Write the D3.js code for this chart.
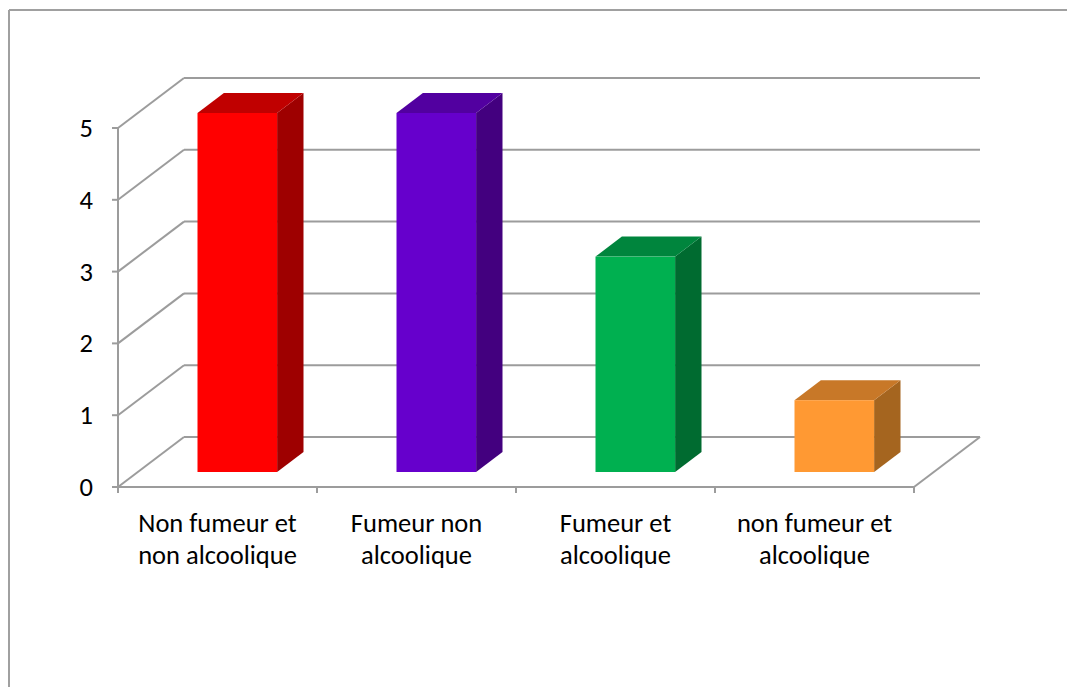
<!DOCTYPE html>
<html>
<head>
<meta charset="utf-8">
<script src="https://cdn.jsdelivr.net/npm/d3@7"></script>
<style>
  html, body { margin: 0; padding: 0; background: #fff; }
  svg { display: block; }
  text { font-family: Carlito, "Open Sans", "Liberation Sans", sans-serif; fill: #000; }
</style>
</head>
<body>
<svg id="chart" width="1067" height="687"></svg>
<script>
// Data
const categories = [
  ["Non fumeur et", "non alcoolique"],
  ["Fumeur non", "alcoolique"],
  ["Fumeur et", "alcoolique"],
  ["non fumeur et", "alcoolique"]
];
const values = [5, 5, 3, 1];
const yTicks = [0, 1, 2, 3, 4, 5];
const frontColors = ["#FF0000", "#6600CC", "#00B050", "#FF9933"];
const topColors   = ["#C00000", "#5200A0", "#00853D", "#C87828"];
const sideColors  = ["#9E0000", "#43007F", "#006B30", "#A5651F"];

const svg = d3.select("#chart");
const W = 1067, H = 687;
const FONT = 26.5;

// Outer frame (top and left edges)
svg.append("line").attr("x1", 9).attr("y1", 10).attr("x2", W).attr("y2", 10)
  .attr("stroke", "#a0a0a0").attr("stroke-width", 2);
svg.append("line").attr("x1", 9).attr("y1", 10).attr("x2", 9).attr("y2", H)
  .attr("stroke", "#a0a0a0").attr("stroke-width", 2);

// Front plane scales and depth projection
const x = d3.scaleBand().domain(d3.range(categories.length)).range([118, 914]).paddingInner(0).paddingOuter(0);
const y = d3.scaleLinear().domain([0, 5]).range([487, 128]);
const DX = 66, DY = -50;          // full depth offset
const dFront = 0.3, dBack = 0.7;  // bar depth placement
const barFrac = 0.4;

const gridColor = "#9c9c9c";
const grid = svg.append("g").attr("fill", "none").attr("stroke", gridColor).attr("stroke-width", 2);

// Left wall diagonals and back wall lines
yTicks.forEach(v => {
  grid.append("line").attr("x1", 118).attr("y1", y(v)).attr("x2", 118 + DX).attr("y2", y(v) + DY);
  grid.append("line").attr("x1", 118 + DX).attr("y1", y(v) + DY).attr("x2", 914 + DX).attr("y2", y(v) + DY);
});
// Floor right edge and front edge
grid.append("line").attr("x1", 914).attr("y1", y(0)).attr("x2", 914 + DX).attr("y2", y(0) + DY);
grid.append("line").attr("x1", 118).attr("y1", y(0)).attr("x2", 914).attr("y2", y(0));
// Y axis line
grid.append("line").attr("x1", 118).attr("y1", y(0)).attr("x2", 118).attr("y2", y(5));
// Y ticks
yTicks.forEach(v => {
  grid.append("line").attr("x1", 112).attr("y1", y(v)).attr("x2", 118).attr("y2", y(v));
});
// X ticks at band edges
d3.range(categories.length + 1).forEach(i => {
  const xx = 118 + i * x.step();
  grid.append("line").attr("x1", xx).attr("y1", y(0)).attr("x2", xx).attr("y2", y(0) + 6);
});

// Bars
const bars = svg.append("g");
values.forEach((v, i) => {
  const bw = x.step() * barFrac;
  const x0 = x(i) + (x.step() - bw) / 2 + DX * dFront;
  const x1 = x0 + bw;
  const yb = y(0) + DY * dFront;
  const yt = y(v) + DY * dFront;
  const ddx = DX * (dBack - dFront), ddy = DY * (dBack - dFront);
  // side face
  bars.append("path")
    .attr("d", `M${x1},${yb} L${x1 + ddx},${yb + ddy} L${x1 + ddx},${yt + ddy} L${x1},${yt} Z`)
    .attr("fill", sideColors[i]);
  // top face
  bars.append("path")
    .attr("d", `M${x0},${yt} L${x0 + ddx},${yt + ddy} L${x1 + ddx},${yt + ddy} L${x1},${yt} Z`)
    .attr("fill", topColors[i]);
  // front face
  bars.append("rect")
    .attr("x", x0).attr("y", yt).attr("width", bw).attr("height", yb - yt)
    .attr("fill", frontColors[i]);
});

// Y labels
svg.append("g").selectAll("text").data(yTicks).join("text")
  .attr("x", 93).attr("y", d => y(d))
  .attr("text-anchor", "end").attr("dominant-baseline", "central")
  .attr("font-size", FONT)
  .text(d => d);

// Category labels
const labels = svg.append("g");
categories.forEach((lines, i) => {
  const cx = x(i) + x.step() / 2;
  lines.forEach((t, j) => {
    labels.append("text")
      .attr("x", cx).attr("y", 523 + j * 32)
      .attr("text-anchor", "middle").attr("dominant-baseline", "central")
      .attr("font-size", FONT)
      .text(t);
  });
});
</script>
</body>
</html>
